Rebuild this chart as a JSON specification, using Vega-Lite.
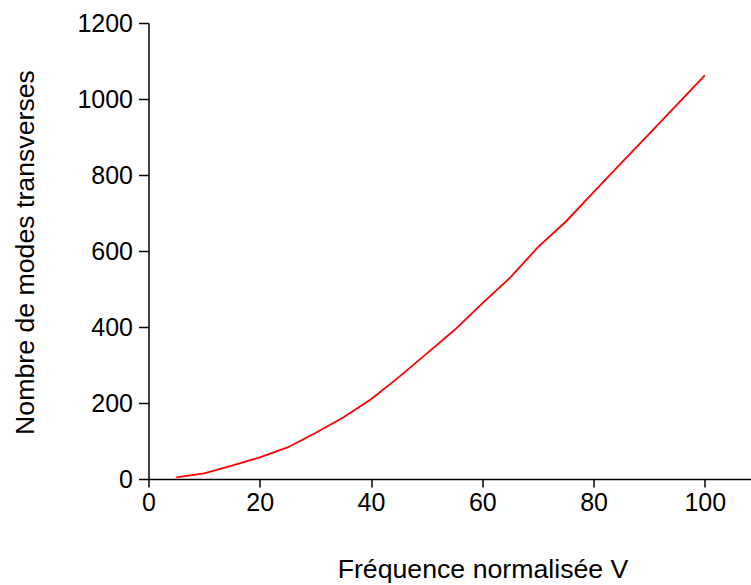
{
  "$schema": "https://vega.github.io/schema/vega-lite/v6.json",
  "autosize": "none",
  "width": 602.5,
  "height": 456,
  "padding": {"left": 148.5, "top": 23, "right": 0, "bottom": 106},
  "background": "white",
  "config": {
    "view": {"stroke": null},
    "axis": {
      "grid": false,
      "domainColor": "black",
      "domainWidth": 1.5,
      "tickColor": "black",
      "tickWidth": 1.5,
      "labelFont": "Liberation Sans",
      "labelColor": "black",
      "titleFont": "Liberation Sans",
      "titleFontWeight": "normal",
      "titleColor": "black"
    }
  },
  "data": {
    "values": [
      {"V": 5, "N": 4},
      {"V": 10, "N": 15},
      {"V": 15, "N": 35},
      {"V": 20, "N": 57},
      {"V": 25, "N": 83},
      {"V": 30, "N": 121},
      {"V": 35, "N": 162},
      {"V": 40, "N": 210},
      {"V": 45, "N": 268},
      {"V": 50, "N": 330},
      {"V": 55, "N": 392},
      {"V": 60, "N": 462},
      {"V": 65, "N": 530},
      {"V": 70, "N": 610},
      {"V": 75, "N": 677},
      {"V": 80, "N": 755},
      {"V": 85, "N": 832},
      {"V": 90, "N": 908},
      {"V": 95, "N": 985},
      {"V": 100, "N": 1062}
    ]
  },
  "mark": {"type": "line", "color": "#ff0000", "strokeWidth": 1.8},
  "encoding": {
    "x": {
      "field": "V",
      "type": "quantitative",
      "scale": {"domain": [0, 108.3], "nice": false, "zero": true},
      "axis": {
        "title": "Fréquence normalisée V",
        "values": [0, 20, 40, 60, 80, 100],
        "format": "d",
        "labelFontSize": 25,
        "titleFontSize": 26.7,
        "tickSize": 8,
        "labelPadding": 3,
        "labelFlush": false,
        "titleX": 334,
        "titleY": 98,
        "titleBaseline": "alphabetic",
        "titleAlign": "center"
      }
    },
    "y": {
      "field": "N",
      "type": "quantitative",
      "scale": {"domain": [0, 1200], "nice": false},
      "axis": {
        "title": "Nombre de modes transverses",
        "values": [0, 200, 400, 600, 800, 1000, 1200],
        "format": "d",
        "labelFontSize": 25,
        "titleFontSize": 26.7,
        "tickSize": 10,
        "labelPadding": 6,
        "labelFlush": false,
        "titleX": -115,
        "titleY": 229,
        "titleAngle": -90,
        "titleBaseline": "alphabetic",
        "titleAlign": "center"
      }
    }
  }
}
